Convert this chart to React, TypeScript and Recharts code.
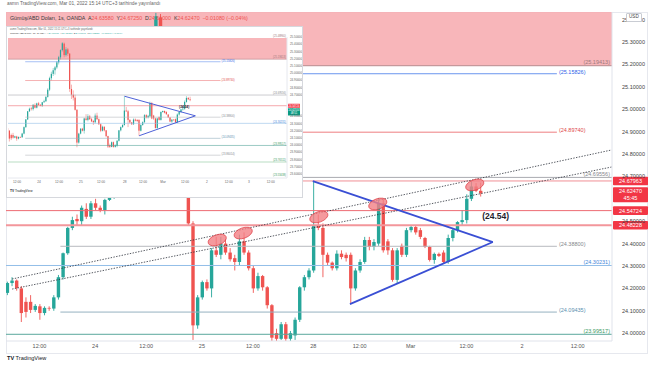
import React from "react";
import {
  ComposedChart,
  Bar,
  XAxis,
  YAxis,
  ReferenceLine,
  ReferenceArea,
  ReferenceDot,
} from "recharts";

const GREEN = "#26a69a";
const RED = "#ef5350";
const BADGE_RED = "#f23645";
const FONT = "'Liberation Sans', Arial, sans-serif";

// 1h bars, slot = bar index on the time axis (weekend / breaks skipped)
const slots = [
  -7, -6, -5, -4, -3, -2, -1, 0, 1, 2, 3, 4, 5, 6, 7, 8, 9, 10, 11, 12, 13, 14, 15,
  16, 17, 18, 19, 20, 21, 22, 23, 24, 25, 26, 27, 28, 29, 30, 31, 32, 33, 34, 35,
  36, 37, 38, 39, 40, 41, 42, 43, 44, 45, 46, 47, 48, 49, 50, 51, 52, 53, 54, 55,
  56, 57, 58, 59, 60, 61, 62, 63, 64, 65, 66, 67, 68, 69, 70, 71, 72, 73, 74, 75,
  76, 77, 78, 79, 80, 81, 82, 83, 84, 85, 86, 87, 88, 89, 90, 91, 92, 93, 94, 95,
];
const opens = [
  24.18, 24.224, 24.235, 24.2, 24.14, 24.14, 24.104, 24.12, 24.09, 24.113, 24.11, 24.16, 24.25, 24.357, 24.47, 24.51, 24.5, 24.555, 24.52, 24.58, 24.56, 24.55, 24.595,
  24.61, 24.67, 24.77, 24.93, 24.99, 25.04, 25.08, 25.15, 25.22, 25.32, 25.41, 25.25, 25.33, 25.27, 24.78, 24.7, 24.66, 24.49, 24.035, 24.16,
  24.228, 24.2, 24.37, 24.35, 24.4, 24.36, 24.335, 24.318, 24.41, 24.36, 24.29, 24.2, 24.255, 24.205, 24.125, 24.0, 23.975, 24.04, 23.975, 23.99,
  24.06, 24.205, 24.25, 24.28, 24.48, 24.47, 24.35, 24.315, 24.29, 24.355, 24.35, 24.35, 24.2, 24.28, 24.318, 24.416, 24.385, 24.4, 24.58, 24.41,
  24.37, 24.238, 24.39, 24.35, 24.46, 24.474, 24.46, 24.425, 24.385, 24.327, 24.354, 24.36, 24.318, 24.425, 24.46, 24.496, 24.505, 24.6, 24.655, 24.6358,
];
const highs = [
  24.23, 24.25, 24.24, 24.21, 24.16, 24.17, 24.13, 24.13, 24.12, 24.12, 24.17, 24.26, 24.36, 24.475, 24.52, 24.53, 24.57, 24.58, 24.59, 24.6, 24.57, 24.6, 24.63,
  24.68, 24.79, 24.95, 25.02, 25.07, 25.1, 25.17, 25.24, 25.33, 25.43, 25.425, 25.36, 25.35, 25.28, 24.84, 24.76, 24.7, 24.5, 24.17, 24.235,
  24.24, 24.38, 24.43, 24.43, 24.42, 24.38, 24.35, 24.44, 24.45, 24.37, 24.3, 24.27, 24.26, 24.21, 24.13, 24.02, 24.05, 24.05, 24.01, 24.07,
  24.21, 24.26, 24.29, 24.679, 24.53, 24.49, 24.36, 24.32, 24.37, 24.37, 24.36, 24.36, 24.29, 24.33, 24.43, 24.43, 24.42, 24.604, 24.6, 24.42,
  24.38, 24.38, 24.4, 24.47, 24.48, 24.48, 24.47, 24.43, 24.39, 24.36, 24.36, 24.37, 24.44, 24.47, 24.5, 24.55, 24.62, 24.6796, 24.67, 24.6725,
];
const lows = [
  24.17, 24.21, 24.19, 24.05, 24.07, 24.09, 24.095, 24.06, 24.08, 24.1, 24.1, 24.15, 24.24, 24.35, 24.46, 24.48, 24.48, 24.51, 24.51, 24.55, 24.54, 24.53, 24.59,
  24.6, 24.66, 24.75, 24.9, 24.96, 24.98, 25.06, 25.12, 25.19, 25.3, 25.22, 25.23, 25.24, 24.74, 24.64, 24.62, 24.48, 23.97, 24.02, 24.15,
  24.19, 24.16, 24.34, 24.33, 24.35, 24.32, 24.28, 24.3, 24.35, 24.28, 24.18, 24.19, 24.19, 24.11, 23.96, 23.96, 23.97, 23.965, 23.965, 23.97,
  24.05, 24.19, 24.24, 24.27, 24.46, 24.25, 24.3, 24.28, 24.28, 24.33, 24.32, 24.13, 24.19, 24.27, 24.31, 24.37, 24.37, 24.39, 24.36, 24.35,
  24.23, 24.22, 24.34, 24.34, 24.45, 24.44, 24.42, 24.38, 24.32, 24.31, 24.34, 24.31, 24.31, 24.41, 24.45, 24.48, 24.49, 24.59, 24.63, 24.61,
];
const closes = [
  24.224, 24.235, 24.202, 24.09, 24.095, 24.104, 24.122, 24.09, 24.113, 24.11, 24.16, 24.25, 24.357, 24.47, 24.505, 24.5, 24.56, 24.52, 24.58, 24.56, 24.55, 24.595, 24.61,
  24.67, 24.77, 24.93, 24.99, 25.04, 25.08, 25.15, 25.22, 25.32, 25.415, 25.25, 25.33, 25.27, 24.78, 24.7, 24.66, 24.49, 24.035, 24.16, 24.228,
  24.2, 24.37, 24.35, 24.4, 24.36, 24.33, 24.318, 24.41, 24.36, 24.29, 24.2, 24.255, 24.205, 24.125, 23.98, 23.975, 24.04, 23.975, 24.0, 24.06,
  24.205, 24.25, 24.28, 24.48, 24.47, 24.35, 24.315, 24.29, 24.355, 24.34, 24.335, 24.2, 24.28, 24.318, 24.416, 24.385, 24.407, 24.58, 24.37, 24.37,
  24.238, 24.37, 24.35, 24.46, 24.474, 24.45, 24.43, 24.385, 24.327, 24.354, 24.345, 24.318, 24.425, 24.46, 24.496, 24.505, 24.6, 24.655, 24.636, 24.6247,
];

const tickSlots = [0, 12, 23, 35, 46, 59, 69, 80, 92, 104, 116, 127, 139];
const tickLabels = ["12:00", "24", "12:00", "25", "12:00", "28", "12:00", "Mar", "12:00", "2", "12:00", "3", "12:00"];

// 24.6 sits fully under the price badges, so it is not listed
const priceTicks = [24.0, 24.1, 24.2, 24.3, 24.4, 24.5, 24.7, 24.8, 24.9, 25.0, 25.1, 25.2, 25.3, 25.4];
const insetPriceTicks = [
  23.6, 23.7, 23.8, 23.9, 24.0, 24.1, 24.2, 24.3, 24.4, 24.7, 24.8, 24.9, 25.0, 25.1, 25.2, 25.3, 25.4, 25.5,
];

// drawn horizontal levels
const levels = [
  25.19413, 25.15826, 24.8974, 24.69556, 24.67963, 24.54724, 24.48228, 24.388, 24.30231, 24.09435, 23.99517,
  23.86014, 23.76511, 23.55638,
];
const zone = [25.19413, 25.4896];
const badgePrices = [24.67963, 24.6247, 24.54724, 24.48228];
const countdown = "45:45";
const insetBadgePrices = [24.54724, 24.6255];
const insetCountdown = "48:51";

// drawings (slot, price)
const channelUpper = [[-5.9, 24.242], [123.3, 24.818]];
const channelLower = [[-5.9, 24.197], [123.3, 24.742]];
const triangle = [[58.9, 24.679], [97.7, 24.407], [66.9, 24.13]];
const touches = [[38.3, 24.416], [43.9, 24.447], [60.2, 24.519], [72.9, 24.577], [93.8, 24.662]];
const breakout = { text: "(24.54)", slot: 95.4, price: 24.523 };
const insetBreakout = { slot: 88.8, price: 24.52 };

const SHORT = [4.5, 111.5];

// look of each level (same order as levels)
const levelLook = [
  { stroke: "#b88c8e", text: "#9c7a7c", short: false, label: true, main: true, inset: true },
  { stroke: "#6b95ef", text: "#2f62e8", short: true, label: true, main: true, inset: true },
  { stroke: "#ee7d80", text: "#e04848", short: true, label: true, main: true, inset: true },
  { stroke: "#a9abb0", text: "#85878d", short: false, label: true, main: true, inset: true },
  { stroke: "#f08f95", text: "", short: false, label: false, main: true, inset: false },
  { stroke: "#ee6b73", text: "", short: false, label: false, main: true, inset: true },
  { stroke: "#f3969b", text: "", short: false, label: false, main: true, inset: false, w: 2 },
  { stroke: "#b7b9be", text: "#85878d", short: true, label: true, main: true, inset: true },
  { stroke: "#93bfe8", text: "#3f86d9", short: false, label: true, main: true, inset: true },
  { stroke: "#96b2c0", text: "#5b8fb0", short: true, label: true, main: true, inset: true },
  { stroke: "#5aa89c", text: "#3d9a5f", short: false, label: true, main: true, inset: true },
  { stroke: "#b7b9be", text: "#85878d", short: true, label: true, main: false, inset: true },
  { stroke: "#8cc79a", text: "#3d9a5f", short: false, label: true, main: false, inset: true },
  { stroke: "#ffffff", text: "#3d9a5f", short: false, label: true, main: false, inset: true },
];

const candles = slots.map((slot, i) => ({
  slot,
  open: opens[i],
  high: highs[i],
  low: lows[i],
  close: closes[i],
  range: [lows[i], highs[i]],
}));

const fmtTime = (v: number) => {
  const i = tickSlots.indexOf(v);
  return i >= 0 ? tickLabels[i] : "";
};

function Candle(props: any) {
  const { x, y, width, height, payload, wick } = props;
  if (!payload) return null;
  const { open, close, high, low } = payload;
  const color = close >= open ? GREEN : RED;
  let top = y;
  let h = height;
  if (h < 0) {
    top = y + h;
    h = -h;
  }
  const span = high - low || 1;
  const py = (v: number) => top + ((high - v) / span) * h;
  const b1 = py(Math.max(open, close));
  const b2 = py(Math.min(open, close));
  const cx = x + width / 2;
  return (
    <g>
      <line x1={cx} x2={cx} y1={top} y2={top + h} stroke={color} strokeWidth={wick} />
      <rect x={x} y={b1} width={width} height={Math.max(b2 - b1, 0.6)} fill={color} />
    </g>
  );
}

function LevelLabel({ viewBox, text, color, short, fs, pad }: any) {
  if (!viewBox) return null;
  const right = viewBox.x + viewBox.width;
  if (short) {
    return (
      <text x={right + pad} y={viewBox.y} fontSize={fs} fill={color} fontFamily={FONT}>
        {text}
      </text>
    );
  }
  return (
    <text x={right - pad} y={viewBox.y - fs * 0.28} fontSize={fs} fill={color} textAnchor="end" fontFamily={FONT}>
      {text}
    </text>
  );
}

function Badge({ viewBox, text, sub, color, w, fs, shift }: any) {
  if (!viewBox) return null;
  const x = viewBox.x + viewBox.width + 1;
  const y = viewBox.y + (shift || 0);
  const h = sub ? fs * 2.75 : fs * 1.55;
  const top = sub ? y - fs * 1.1 : y - h / 2;
  return (
    <g>
      <rect x={x} y={top} width={w} height={h} fill={color} rx={fs * 0.15} />
      <text x={x + w / 2} y={top + fs * 1.12} fontSize={fs} fill="#fff" textAnchor="middle" fontFamily={FONT}>
        {text}
      </text>
      {sub ? (
        <text x={x + w / 2} y={top + fs * 2.35} fontSize={fs} fill="#fff" textAnchor="middle" fontFamily={FONT}>
          {sub}
        </text>
      ) : null}
    </g>
  );
}

function renderLevels(which: "main" | "inset", fs: number, pad: number, lw: number) {
  return levels.map((price, i) => {
    const look: any = levelLook[i];
    if (!look[which]) return null;
    const text = `(${price.toFixed(5)})`;
    const label = look.label
      ? (p: any) => <LevelLabel viewBox={p.viewBox} text={text} color={look.text} short={look.short} fs={fs} pad={pad} />
      : undefined;
    const width = (look.w || 1) * lw;
    if (look.short) {
      return (
        <ReferenceLine
          key={`${which}-lv-${i}`}
          segment={[
            { x: SHORT[0], y: price },
            { x: SHORT[1], y: price },
          ]}
          stroke={look.stroke}
          strokeWidth={width}
          ifOverflow="visible"
          label={label}
        />
      );
    }
    return (
      <ReferenceLine
        key={`${which}-lv-${i}`}
        y={price}
        stroke={look.stroke}
        strokeWidth={width}
        ifOverflow="visible"
        label={label}
      />
    );
  });
}

function triangleLines(prefix: string, sw: number) {
  const [top, apex, bottom] = triangle;
  return [
    <ReferenceLine
      key={`${prefix}-t1`}
      segment={[
        { x: top[0], y: top[1] },
        { x: apex[0], y: apex[1] },
      ]}
      stroke="#3a4fd4"
      strokeWidth={sw}
      ifOverflow="visible"
    />,
    <ReferenceLine
      key={`${prefix}-t2`}
      segment={[
        { x: bottom[0], y: bottom[1] },
        { x: apex[0], y: apex[1] },
      ]}
      stroke="#3a4fd4"
      strokeWidth={sw}
      ifOverflow="visible"
    />,
  ];
}

function MainChart() {
  return (
    <ComposedChart width={654} height={366} data={candles} margin={{ top: 12, right: 6, bottom: 11, left: 6 }}>
      <XAxis
        dataKey="slot"
        type="number"
        domain={[-7.22, 123.38]}
        allowDataOverflow
        ticks={tickSlots.slice(0, 11)}
        tickFormatter={fmtTime}
        interval={0}
        height={14}
        tickLine={false}
        tickSize={0}
        tickMargin={3}
        axisLine={{ stroke: "#e0e3eb" }}
        tick={{ fontSize: 5.5, fill: "#555", fontFamily: FONT }}
      />
      <YAxis
        orientation="right"
        type="number"
        domain={[23.9652, 25.4339]}
        allowDataOverflow
        ticks={priceTicks}
        interval={0}
        tickFormatter={(v: number) => v.toFixed(5)}
        width={36}
        tickLine={false}
        tickSize={0}
        tickMargin={10}
        axisLine={{ stroke: "#e0e3eb" }}
        tick={{ fontSize: 5.5, fill: "#444", fontFamily: FONT }}
      />
      <ReferenceArea y1={zone[0]} y2={zone[1]} fill="#f7a9ae" fillOpacity={0.85} stroke="none" ifOverflow="hidden" />
      {renderLevels("main", 5.5, 2, 1)}
      <Bar dataKey="range" barSize={3.4} isAnimationActive={false} shape={(p: any) => <Candle {...p} wick={0.9} />} />
      {[channelUpper, channelLower].map((seg, i) => (
        <ReferenceLine
          key={`ch-${i}`}
          segment={[
            { x: seg[0][0], y: seg[0][1] },
            { x: seg[1][0], y: seg[1][1] },
          ]}
          stroke="#2a2e39"
          strokeWidth={0.8}
          strokeDasharray="1.4 1.4"
          ifOverflow="visible"
        />
      ))}
      {triangleLines("m", 1.8)}
      {touches.map((t, i) => (
        <ReferenceDot
          key={`touch-${i}`}
          x={t[0]}
          y={t[1]}
          ifOverflow="visible"
          shape={(p: any) => (
            <ellipse
              cx={p.cx}
              cy={p.cy}
              rx={9.5}
              ry={5.2}
              transform={`rotate(-20 ${p.cx} ${p.cy})`}
              fill="#f27f84"
              fillOpacity={0.8}
              stroke="#e0424a"
              strokeWidth={0.7}
            />
          )}
        />
      ))}
      <ReferenceDot
        x={breakout.slot}
        y={breakout.price}
        ifOverflow="visible"
        shape={(p: any) => (
          <text x={p.cx} y={p.cy + 3} fontSize={8.5} fontWeight="bold" fill="#1e222d" fontFamily={FONT}>
            {breakout.text}
          </text>
        )}
      />
      {badgePrices.map((price, i) => (
        <ReferenceLine
          key={`badge-${i}`}
          y={price}
          stroke="none"
          ifOverflow="visible"
          label={(p: any) => (
            <Badge
              viewBox={p.viewBox}
              text={price.toFixed(5)}
              sub={i === 1 ? countdown : null}
              color={BADGE_RED}
              w={35}
              fs={5.5}
            />
          )}
        />
      ))}
    </ComposedChart>
  );
}

function InsetChart() {
  return (
    <ComposedChart width={295} height={170} data={candles} margin={{ top: 10, right: 1, bottom: 9, left: 1 }}>
      <XAxis
        dataKey="slot"
        type="number"
        domain={[-4.93, 147.9]}
        allowDataOverflow
        ticks={tickSlots}
        tickFormatter={fmtTime}
        interval={0}
        height={10}
        tickLine={false}
        tickSize={0}
        tickMargin={2.5}
        axisLine={{ stroke: "#e6e8ee" }}
        tick={{ fontSize: 3.2, fill: "#666", fontFamily: FONT }}
      />
      <YAxis
        orientation="right"
        type="number"
        domain={[23.543, 25.502]}
        allowDataOverflow
        ticks={insetPriceTicks}
        interval={0}
        tickFormatter={(v: number) => v.toFixed(5)}
        width={14}
        tickLine={false}
        tickSize={0}
        tickMargin={3}
        axisLine={{ stroke: "#e6e8ee" }}
        tick={{ fontSize: 2.9, fill: "#666", fontFamily: FONT }}
      />
      <ReferenceArea y1={zone[0]} y2={zone[1]} fill="#f7a9ae" fillOpacity={0.85} stroke="none" ifOverflow="hidden" />
      {renderLevels("inset", 2.7, 1, 0.6)}
      <ReferenceLine
        y={zone[1]}
        stroke="none"
        ifOverflow="visible"
        label={(p: any) => (
          <LevelLabel viewBox={p.viewBox} text={`(${zone[1].toFixed(5)})`} color="#9c7a7c" short={false} fs={2.7} pad={1} />
        )}
      />
      <Bar dataKey="range" barSize={1.2} isAnimationActive={false} shape={(p: any) => <Candle {...p} wick={0.45} />} />
      {triangleLines("i", 0.9)}
      <ReferenceDot
        x={insetBreakout.slot}
        y={insetBreakout.price}
        ifOverflow="visible"
        shape={(p: any) => (
          <text x={p.cx} y={p.cy} fontSize={3.2} fontWeight="bold" fill="#1e222d" fontFamily={FONT}>
            {breakout.text}
          </text>
        )}
      />
      {insetBadgePrices.map((price, i) => (
        <ReferenceLine
          key={`ibadge-${i}`}
          y={price}
          stroke="none"
          ifOverflow="visible"
          label={(p: any) => (
            <Badge
              viewBox={p.viewBox}
              text={price.toFixed(5)}
              sub={i === 1 ? insetCountdown : null}
              color={i === 0 ? BADGE_RED : "#089981"}
              w={12}
              fs={2.7}
              shift={i === 1 ? 11 : 0}
            />
          )}
        />
      ))}
    </ComposedChart>
  );
}

export default function App() {
  const abs = (l: number, t: number, extra: any = {}) => ({
    position: "absolute" as const,
    left: l,
    top: t,
    whiteSpace: "nowrap" as const,
    fontFamily: FONT,
    lineHeight: 1,
    ...extra,
  });
  return (
    <div style={{ position: "absolute", left: 0, top: 0, width: 654, height: 366, background: "#fff", overflow: "hidden" }}>
      <div style={abs(6, 12, { width: 642, height: 342, border: "1px solid #e6e8ee", boxSizing: "border-box" })} />
      <div style={{ position: "absolute", left: 0, top: 0 }}>
        <MainChart />
      </div>
      <div style={abs(7, 2, { fontSize: 4.8, color: "#666" })}>
        asmn TradingView.com, Mar 01, 2022 15:14 UTC+3 tarihinde yayınlandı
      </div>
      <div style={abs(10, 16, { fontSize: 5.3, color: "#3a3a3a" })}>
        Gümüş/ABD Doları, 1s, OANDA&nbsp; A<span style={{ color: RED }}>24.63580</span>&nbsp; Y
        <span style={{ color: RED }}>24.67250</span>&nbsp; D<span style={{ color: RED }}>24.61000</span>&nbsp; K
        <span style={{ color: RED }}>24.62470</span>&nbsp; <span style={{ color: RED }}>−0.01080 (−0.04%)</span>
      </div>
      <div
        style={abs(626, 13, {
          fontSize: 4.6,
          color: "#444",
          background: "#fff",
          border: "0.6px solid #c9ccd3",
          padding: "1px 2px",
          borderRadius: 1,
        })}
      >
        USD
      </div>
      <div style={abs(7, 356, { fontSize: 5.6, color: "#131722" })}>
        <b>TV</b> TradingView
      </div>
      <div
        style={{
          position: "absolute",
          left: 7,
          top: 27,
          width: 295,
          height: 170,
          background: "#fff",
          boxShadow: "0 0 0 1px #d6d8dd",
          overflow: "hidden",
        }}
      >
        <InsetChart />
        <div style={abs(3, 1.5, { fontSize: 2.6, color: "#666" })}>
          asmn TradingView.com, Mar 01, 2022 15:11 UTC+3 tarihinde yayınlandı
        </div>
        <div style={abs(3, 5.5, { fontSize: 2.5, color: "#444" })}>
          Gümüş/ABD Doları, 1s, OANDA&nbsp; A<span style={{ color: GREEN }}>24.61000</span>&nbsp; Y
          <span style={{ color: GREEN }}>24.65150</span>&nbsp; D<span style={{ color: GREEN }}>24.60790</span>&nbsp; K
          <span style={{ color: GREEN }}>24.62550</span>&nbsp; <span style={{ color: GREEN }}>+0.01540 (+0.06%)</span>
        </div>
        <div style={abs(3, 163, { fontSize: 3.2, color: "#131722" })}>
          <b>TV</b> TradingView
        </div>
      </div>
    </div>
  );
}
